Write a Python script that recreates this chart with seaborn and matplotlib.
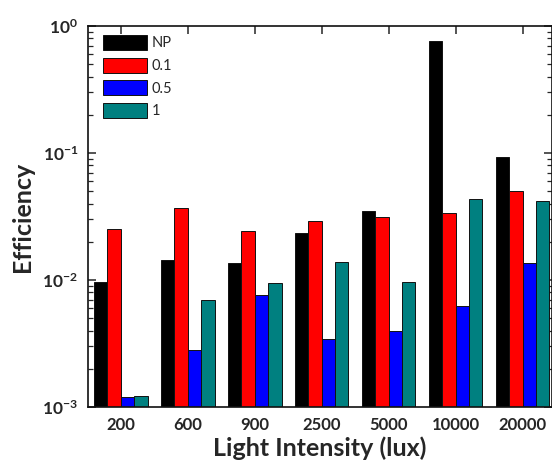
import matplotlib
matplotlib.use("Agg")
import matplotlib.pyplot as plt
import matplotlib.ticker as mticker
import numpy as np
import pandas as pd
import seaborn as sns

# Light intensity levels (lux) and efficiency for each sample
intensities = ["200", "600", "900", "2500", "5000", "10000", "20000"]
samples = ["NP", "0.1", "0.5", "1"]
eff_np = [0.0096, 0.0144, 0.0135, 0.0236, 0.0347, 0.757, 0.0935]
eff_01 = [0.0253, 0.0369, 0.0242, 0.0293, 0.0315, 0.0339, 0.0505]
eff_05 = [0.00119, 0.00281, 0.00767, 0.00345, 0.00399, 0.00624, 0.0137]
eff_1 = [0.00121, 0.00696, 0.00953, 0.0139, 0.00964, 0.0437, 0.0421]
colors = ["#000000", "#ff0000", "#0000ff", "#008080"]

series = [eff_np, eff_01, eff_05, eff_1]
df = pd.DataFrame({
    "Light Intensity (lux)": intensities * len(samples),
    "Sample": [s for s in samples for _ in intensities],
    "Efficiency": [v for vals in series for v in vals],
})

sns.set_style("ticks")
plt.rcParams["font.family"] = ["Lato", "DejaVu Sans"]
plt.rcParams["mathtext.fontset"] = "custom"
plt.rcParams["mathtext.rm"] = "Lato"
plt.rcParams["mathtext.bf"] = "Lato:bold"

fig = plt.figure(figsize=(5.52, 4.68), dpi=100)
ax = fig.add_axes([88 / 552, 1 - 407 / 468, 464 / 552, 381 / 468])
ax.set_yscale("log")

sns.barplot(
    data=df, x="Light Intensity (lux)", y="Efficiency", hue="Sample",
    order=intensities, hue_order=samples, palette=colors, saturation=1,
    width=0.8, edgecolor="#111111", linewidth=0.7, ax=ax,
)

ax.set_ylim(1e-3, 1)
ax.set_xlim(-0.49, 6.44)

ax.yaxis.set_major_locator(mticker.FixedLocator([1e-3, 1e-2, 1e-1, 1]))
ax.yaxis.set_major_formatter(mticker.FixedFormatter(
    [r"$\mathbf{10^{-3}}$", r"$\mathbf{10^{-2}}$", r"$\mathbf{10^{-1}}$", r"$\mathbf{10^{0}}$"]))
ax.yaxis.set_minor_locator(mticker.LogLocator(base=10, subs=np.arange(2, 10)))
ax.yaxis.set_minor_formatter(mticker.NullFormatter())

ax.tick_params(axis="both", which="major", direction="in", length=6, width=1.1,
               top=True, right=True, pad=7)
ax.tick_params(axis="y", which="minor", direction="in", length=3.5, width=0.9, right=True)
ax.tick_params(axis="y", labelsize=12.5)
for lbl in ax.get_xticklabels():
    lbl.set_fontweight("bold")
    lbl.set_fontsize(12)

for sp in ax.spines.values():
    sp.set_visible(True)
    sp.set_linewidth(1.2)
    sp.set_color("#111111")

ax.set_xlabel("Light Intensity (lux)", fontsize=18, fontweight="bold", labelpad=3)
ax.set_ylabel("Efficiency", fontsize=18, fontweight="bold", labelpad=6)

ax.legend(
    title=None, loc="upper left", bbox_to_anchor=(15 / 464, 1 - 9 / 381),
    frameon=False, fontsize=10.5, handlelength=3.0, handleheight=1.2,
    labelspacing=0.5, handletextpad=0.35, borderpad=0, borderaxespad=0,
)

fig.savefig("out.png", dpi=100)
